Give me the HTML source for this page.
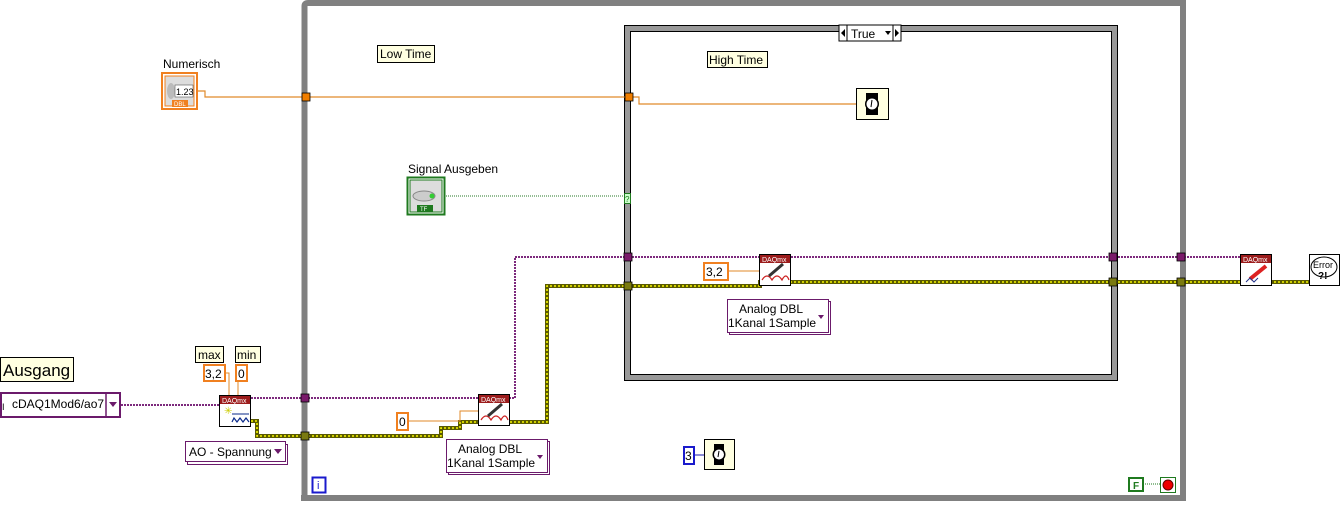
<!DOCTYPE html>
<html><head><meta charset="utf-8"><style>
body{margin:0;background:#fff;width:1341px;height:503px;overflow:hidden;font-family:"Liberation Sans",sans-serif}
svg text{font-family:"Liberation Sans",sans-serif}
</style></head><body>
<svg width="1341" height="503" xmlns="http://www.w3.org/2000/svg">
<!-- while loop -->
<path d="M304.5,500 V6 Q304.5,3 308,3 H1183 V498" fill="none" stroke="#808080" stroke-width="6"/>
<rect x="301" y="495" width="885" height="6" fill="#808080"/>
<!-- case structure -->
<rect x="624" y="25" width="494" height="356" fill="#999"/>
<rect x="631" y="32" width="480" height="342" fill="#fff"/>
<rect x="624.5" y="25.5" width="493" height="355" fill="none" stroke="#000" stroke-width="1"/>
<rect x="630.5" y="31.5" width="481" height="343" fill="none" stroke="#000" stroke-width="1"/>
<!-- case selector -->
<rect x="839" y="25" width="62" height="16" fill="#fff" stroke="#000"/>
<line x1="847" y1="25" x2="847" y2="41" stroke="#000"/><line x1="893" y1="25" x2="893" y2="41" stroke="#000"/>
<polygon points="841,33 845,29 845,37" fill="#000"/><polygon points="899,33 895,29 895,37" fill="#000"/>
<polygon points="885,31 891,31 888,35" fill="#000"/>
<text x="851" y="38" font-size="12">True</text>
<!-- labels -->
<rect x="377.5" y="45.5" width="57" height="17" fill="#ffffe1" stroke="#000"/><text x="380" y="58" font-size="12">Low Time</text>
<rect x="707.5" y="51.5" width="60" height="16" fill="#ffffe1" stroke="#000"/><text x="709" y="64" font-size="12">High Time</text>
<text x="163" y="68" font-size="12">Numerisch</text>
<text x="408" y="173" font-size="12">Signal Ausgeben</text>
<!-- orange wires -->
<polyline points="198,91 205,91 205,97 628,97 639,97 639,104 857,104" fill="none" stroke="#e08a2a" stroke-width="1.2"/>
<rect x="302" y="93" width="8" height="8" fill="#f07e00" stroke="#000" stroke-width="0.8"/>
<rect x="625" y="93" width="8" height="8" fill="#f07e00" stroke="#000" stroke-width="0.8"/>
<!-- numerisch control -->
<rect x="162" y="73" width="35" height="36" fill="#fff" stroke="#f08020" stroke-width="2"/>
<rect x="165" y="76" width="29" height="30" fill="#ddd" stroke="#f08020"/>
<ellipse cx="171" cy="91" rx="4" ry="8" fill="#bbb"/>
<rect x="175" y="85" width="18" height="12" fill="#fff" stroke="#555" stroke-width="0.6"/>
<text x="176" y="95" font-size="9">1.23</text>
<rect x="172" y="100" width="16" height="7" fill="#f08020"/><text x="174" y="106" font-size="6" fill="#fff">DBL</text>
<!-- wait timer top -->
<rect x="856.5" y="88.5" width="32" height="31" fill="#ffffe1" stroke="#000"/>
<rect x="866" y="93" width="12" height="22" fill="#000"/><circle cx="872" cy="104" r="7" fill="#000"/><circle cx="872" cy="104" r="5.5" fill="#fff"/>
<line x1="872" y1="100" x2="871" y2="107" stroke="#000"/>
<!-- signal ausgeben -->
<polyline points="444,196 624,196" stroke="#2a7a2a" stroke-width="1" stroke-dasharray="1,1"/>
<rect x="407.5" y="177.5" width="37" height="37" fill="#fff" stroke="#1f7a1f" stroke-width="2"/>
<rect x="410" y="180" width="32" height="32" fill="#ddd" stroke="#1f7a1f"/>
<ellipse cx="424" cy="196" rx="11" ry="5" fill="#ccc" stroke="#888"/><circle cx="432" cy="196" r="2.5" fill="#3c3"/>
<rect x="417" y="205" width="16" height="7" fill="#1f7a1f"/><text x="420" y="211" font-size="6" fill="#fff">TF</text>
<rect x="624.5" y="193.5" width="6" height="10" fill="#cfc" stroke="#1f7a1f"/><text x="625" y="202" font-size="8" fill="#1f7a1f">?</text>
<!-- purple wires -->
<g fill="none" stroke="#7d2a7d" stroke-width="2" stroke-dasharray="2,1">
<polyline points="121,405 220,405"/>
<polyline points="251,398 515,398 515,257 1240,257"/>
</g>
<!-- yellow wires -->
<g fill="none">
<polyline points="251,421 257,421 257,436 441,436 441,428 460,428 460,422 478,422" stroke="#5a5a00" stroke-width="4"/>
<polyline points="510,422 547,422 547,286 760,286 760,282 1309,282" stroke="#5a5a00" stroke-width="4"/>
<polyline points="251,421 257,421 257,436 441,436 441,428 460,428 460,422 478,422" stroke="#f4f400" stroke-width="1.6" stroke-dasharray="2,2"/>
<polyline points="510,422 547,422 547,286 760,286 760,282 1309,282" stroke="#f4f400" stroke-width="1.6" stroke-dasharray="2,2"/>
</g>
<!-- tunnels -->
<g stroke="#000" stroke-width="0.8">
<rect x="301" y="394" width="8" height="8" fill="#7a1a6a"/>
<rect x="301" y="432" width="8" height="8" fill="#7a7a10"/>
<rect x="624" y="253" width="8" height="8" fill="#7a1a6a"/>
<rect x="624" y="282" width="8" height="8" fill="#7a7a10"/>
<rect x="1109" y="253" width="8" height="8" fill="#7a1a6a"/>
<rect x="1109" y="278" width="8" height="8" fill="#7a7a10"/>
<rect x="1177" y="253" width="8" height="8" fill="#7a1a6a"/>
<rect x="1177" y="278" width="8" height="8" fill="#7a7a10"/>
</g>
<!-- Ausgang -->
<rect x="0.5" y="357.5" width="73" height="24" fill="#ffffe1" stroke="#000"/><text x="3" y="376" font-size="17">Ausgang</text>
<rect x="1" y="393" width="119" height="24" fill="#fff" stroke="#6b1a6b" stroke-width="2"/>
<line x1="106" y1="393" x2="106" y2="417" stroke="#6b1a6b" stroke-width="1.5"/>
<polygon points="109,402 117,402 113,407" fill="#6b1a6b"/>
<text x="2" y="410" font-size="9">I</text><text x="12" y="408" font-size="12">cDAQ1Mod6/ao7</text>
<!-- max/min -->
<rect x="195.5" y="346.5" width="28" height="16" fill="#ffffe1" stroke="#000"/><text x="198" y="359" font-size="12">max</text>
<rect x="235.5" y="346.5" width="25" height="16" fill="#ffffe1" stroke="#000"/><text x="237" y="359" font-size="12">min</text>
<rect x="204" y="365" width="21" height="16" fill="#fff" stroke="#f08020" stroke-width="2"/><text x="205" y="378" font-size="12">3,2</text>
<rect x="236" y="365" width="11" height="16" fill="#fff" stroke="#f08020" stroke-width="2"/><text x="238" y="378" font-size="12">0</text>
<polyline points="225,373 229,373 229,395" fill="none" stroke="#e08a2a"/>
<polyline points="238,381 238,395" fill="none" stroke="#e08a2a"/>
<!-- DAQmx nodes -->
<g font-size="7" fill="#fff">
<rect x="219.5" y="395.5" width="31" height="31" fill="#fff" stroke="#000"/><rect x="220" y="396" width="30" height="8" fill="#9c1c1c"/><text x="222" y="403">DAQmx</text>
<rect x="478.5" y="394.5" width="31" height="31" fill="#fff" stroke="#000"/><rect x="479" y="395" width="30" height="8" fill="#9c1c1c"/><text x="481" y="402">DAQmx</text>
<rect x="759.5" y="254.5" width="31" height="31" fill="#fff" stroke="#000"/><rect x="760" y="255" width="30" height="8" fill="#9c1c1c"/><text x="762" y="262">DAQmx</text>
<rect x="1240.5" y="254.5" width="31" height="31" fill="#fff" stroke="#000"/><rect x="1241" y="255" width="30" height="8" fill="#9c1c1c"/><text x="1243" y="262">DAQmx</text>
</g>
<text x="224" y="414" font-size="10" fill="#cc0">✳</text>
<polyline points="232,422 234,418 237,422 240,418 243,422 246,418 249,422" fill="none" stroke="#0a2a8a" stroke-width="1.2"/>
<line x1="232" y1="414" x2="249" y2="414" stroke="#0a2a8a"/>
<g fill="none" stroke="#c22" stroke-width="1.2">
<path d="M481,420 Q486,412 491,420 Q496,412 501,420 Q505,412 508,420"/>
<path d="M762,280 Q767,272 772,280 Q777,272 782,280 Q786,272 789,280"/>
</g>
<line x1="488" y1="416" x2="502" y2="404" stroke="#333" stroke-width="3"/><line x1="769" y1="276" x2="783" y2="264" stroke="#333" stroke-width="3"/>
<line x1="1250" y1="279" x2="1266" y2="266" stroke="#d22" stroke-width="4"/>
<polyline points="1246,282 1250,278 1254,282 1258,278" fill="none" stroke="#238" stroke-width="1"/>
<!-- constants -->
<polyline points="408,421 460,421 460,411 478,411" fill="none" stroke="#e08a2a"/>
<rect x="397" y="413" width="11" height="17" fill="#fff" stroke="#f08020" stroke-width="2"/><text x="399" y="426" font-size="12">0</text>
<polyline points="729,271 759,271" fill="none" stroke="#e08a2a"/>
<rect x="704" y="263" width="24" height="17" fill="#fff" stroke="#f08020" stroke-width="2"/><text x="706" y="276" font-size="12">3,2</text>
<!-- rings -->
<rect x="187.5" y="444.5" width="100" height="20" fill="#fff" stroke="#6b1a6b"/>
<rect x="185.5" y="441.5" width="100" height="20" fill="#fff" stroke="#6b1a6b"/>
<text x="189" y="456" font-size="12">AO - Spannung</text><polygon points="274,449 282,449 278,454" fill="#6b1a6b"/>
<rect x="448.5" y="441.5" width="101" height="33" fill="#fff" stroke="#6b1a6b"/>
<rect x="446.5" y="439.5" width="101" height="33" fill="#fff" stroke="#6b1a6b"/>
<text x="458" y="453" font-size="12">Analog DBL</text><text x="447" y="467" font-size="12">1Kanal 1Sample</text><polygon points="537,455 543,455 540,459" fill="#6b1a6b"/>
<rect x="729.5" y="301.5" width="101" height="33" fill="#fff" stroke="#6b1a6b"/>
<rect x="727.5" y="299.5" width="101" height="33" fill="#fff" stroke="#6b1a6b"/>
<text x="739" y="313" font-size="12">Analog DBL</text><text x="728" y="327" font-size="12">1Kanal 1Sample</text><polygon points="818,315 824,315 821,319" fill="#6b1a6b"/>
<!-- bottom timer -->
<line x1="694" y1="455" x2="704" y2="455" stroke="#1a1aaa"/>
<rect x="684" y="447" width="10" height="17" fill="#fff" stroke="#1a1acc" stroke-width="2"/><text x="685" y="460" font-size="12">3</text>
<rect x="704.5" y="439.5" width="30" height="30" fill="#ffffe1" stroke="#000"/>
<rect x="714" y="444" width="10" height="21" fill="#000"/><circle cx="719" cy="454.5" r="6.5" fill="#000"/><circle cx="719" cy="454.5" r="5" fill="#fff"/>
<line x1="719" y1="451" x2="718" y2="457" stroke="#000"/>
<!-- error handler -->
<rect x="1309.5" y="254.5" width="30" height="31" fill="#fff" stroke="#000"/>
<ellipse cx="1324" cy="267" rx="13" ry="10" fill="#fff" stroke="#000"/>
<text x="1313" y="268" font-size="9">Error</text><text x="1318" y="279" font-size="10" font-weight="bold">?!</text>
<!-- i, F, stop -->
<rect x="312.5" y="477.5" width="13" height="15" fill="#fff" stroke="#1a1acc" stroke-width="2"/><text x="317" y="489" font-size="11" fill="#1a1acc">i</text>
<rect x="1129" y="478" width="14" height="13" fill="#fff" stroke="#1f7a1f" stroke-width="2"/><text x="1133" y="489" font-size="10" fill="#1f7a1f" font-weight="bold">F</text>
<line x1="1143" y1="484" x2="1160" y2="484" stroke="#1f7a1f" stroke-dasharray="1,1"/>
<rect x="1160.5" y="477.5" width="15" height="15" fill="#fff" stroke="#1f7a1f"/><circle cx="1168" cy="485" r="5" fill="#e00" stroke="#600"/>
</svg>
</body></html>
